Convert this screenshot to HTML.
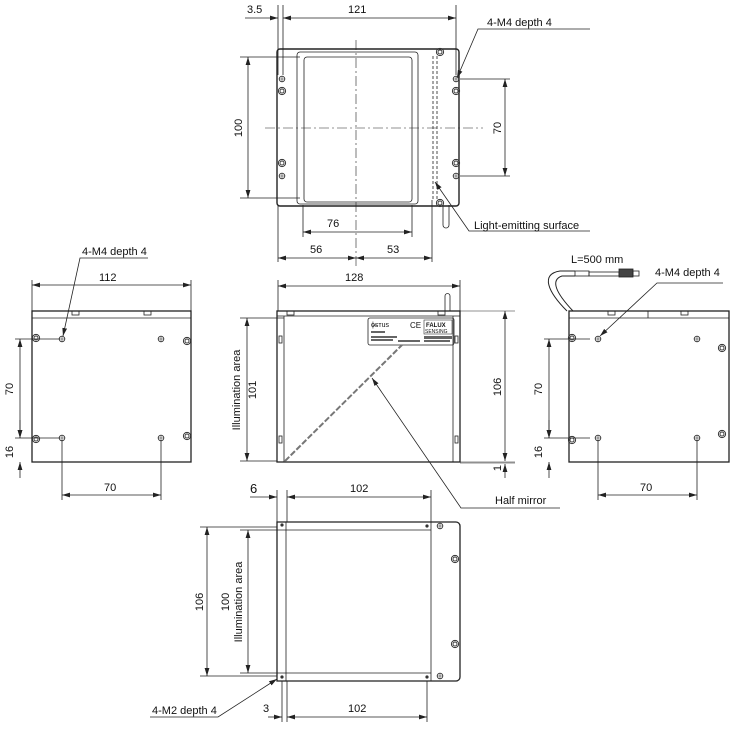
<!DOCTYPE html>
<html><head><meta charset="utf-8"><style>
html,body{margin:0;padding:0;background:#fff;}
svg{display:block;font-family:"Liberation Sans",Arial,sans-serif;}
text{font-size:11px;fill:#111;}
</style></head><body>
<svg width="730" height="731" viewBox="0 0 730 731" xmlns="http://www.w3.org/2000/svg">
<defs>
<marker id="a" viewBox="0 0 10 6" refX="10" refY="3" markerWidth="8" markerHeight="5" orient="auto-start-reverse" markerUnits="userSpaceOnUse"><path d="M0,0L10,3L0,6z" fill="#222"/></marker>
<g id="h"><circle r="2.8" fill="none" stroke="#333" stroke-width="0.9"/><path d="M-2.8,0H2.8M0,-2.8V2.8" stroke="#333" stroke-width="0.6"/></g>
<g id="s"><circle r="3.6" fill="none" stroke="#333" stroke-width="1"/><circle r="2" fill="none" stroke="#333" stroke-width="0.9"/></g>
</defs>
<g fill="none" stroke="#222" stroke-width="0.8">

<!-- TOP VIEW -->
<rect x="277" y="49" width="182" height="157" rx="3" stroke-width="1.4"/>
<rect x="297" y="52" width="121" height="152" rx="3"/>
<rect x="304" y="57" width="108" height="145" rx="3"/>
<path d="M433 56V200M437 56V200" stroke-dasharray="3,2"/>
<path d="M265 128H483M356 40V268" stroke-dasharray="10,3,2,3" stroke-width="0.6"/>
<path d="M443 205V225a3 3 0 0 0 6 0V205" />
<path d="M278 5V75M283 5V75M456 5V75"/>
<path d="M245 18H278" marker-end="url(#a)"/><path d="M283 18H456" marker-start="url(#a)" marker-end="url(#a)"/>
<path d="M240 57H300M240 198H300"/>
<path d="M248 57V198" marker-start="url(#a)" marker-end="url(#a)"/>
<path d="M460 79H510M460 176H510"/>
<path d="M505 79V176" marker-start="url(#a)" marker-end="url(#a)"/>
<path d="M303 205V237M412 205V237M278 205V262M432 200V262"/>
<path d="M303 232H412" marker-start="url(#a)" marker-end="url(#a)"/>
<path d="M278 258H356" marker-start="url(#a)" marker-end="url(#a)"/>
<path d="M356 258H432" marker-start="url(#a)" marker-end="url(#a)"/>
<path d="M590 29H478L457 78" marker-end="url(#a)"/>
<path d="M590 231H469L435 182" marker-end="url(#a)"/>

<!-- FRONT VIEW -->
<rect x="277" y="311" width="183" height="151" stroke-width="1.3"/>
<path d="M277 316H460M284 316V462M453 316V462"/>
<rect x="287" y="311" width="7" height="4"/><rect x="438" y="311" width="7" height="4"/>
<rect x="279" y="336" width="3" height="7"/><rect x="279" y="436" width="3" height="7"/>
<rect x="455" y="336" width="3" height="7"/><rect x="455" y="436" width="3" height="7"/>
<path d="M445 311V296a2.5 2.5 0 0 1 5 0V311"/>
<rect x="368" y="318" width="86" height="27" rx="2"/>
<path d="M285 461L402 345" stroke="#777" stroke-width="2" stroke-dasharray="6,2"/>
<path d="M278 280V311M460 280V311"/>
<path d="M278 286H460" marker-start="url(#a)" marker-end="url(#a)"/>
<path d="M460 311H515M460 462H515M460 463H515" stroke-width="0.6"/>
<path d="M505 311V461" marker-start="url(#a)" marker-end="url(#a)"/>
<path d="M505 478V464" marker-end="url(#a)"/>
<path d="M240 318H284M240 461H277"/>
<path d="M247 318V461" marker-start="url(#a)" marker-end="url(#a)"/>
<path d="M560 508H461L372 378" marker-end="url(#a)"/>

<!-- LEFT VIEW -->
<rect x="32" y="311" width="159" height="151" stroke-width="1.3"/>
<path d="M32 318H191"/>
<rect x="72" y="311" width="7" height="4"/><rect x="144" y="311" width="7" height="4"/>
<path d="M32 280V311M191 280V311"/>
<path d="M32 285H191" marker-start="url(#a)" marker-end="url(#a)"/>
<path d="M15 339H60M15 438H60"/>
<path d="M20 339V438" marker-start="url(#a)" marker-end="url(#a)"/>
<path d="M20 420V438" marker-end="url(#a)"/><path d="M20 478V462" marker-end="url(#a)"/>
<path d="M62 440V500M161 440V500"/>
<path d="M62 495H161" marker-start="url(#a)" marker-end="url(#a)"/>
<path d="M148 258H80L63 336" marker-end="url(#a)"/>

<!-- RIGHT VIEW -->
<rect x="569" y="311" width="160" height="151" stroke-width="1.3"/>
<path d="M569 318H729M648 311V318"/>
<rect x="608" y="311" width="7" height="4"/><rect x="681" y="311" width="7" height="4"/>
<path d="M567 311C548 292 540 274 560 271L575 271" stroke-width="1"/>
<path d="M573 311C556 293 550 280 562 276L575 276" stroke-width="1"/>
<rect x="575" y="271" width="14" height="5"/><rect x="589" y="272" width="30" height="4"/>
<rect x="619" y="269" width="14" height="8" fill="#444"/><rect x="633" y="271" width="6" height="5"/>
<path d="M544 339H590M544 438H590"/>
<path d="M549 339V438" marker-start="url(#a)" marker-end="url(#a)"/>
<path d="M549 420V438" marker-end="url(#a)"/><path d="M549 478V462" marker-end="url(#a)"/>
<path d="M598 440V500M697 440V500"/>
<path d="M598 495H697" marker-start="url(#a)" marker-end="url(#a)"/>
<path d="M723 283H657L600 336" marker-end="url(#a)"/>

<!-- BOTTOM VIEW -->
<path d="M277 522H456a4 4 0 0 1 4 4V677a4 4 0 0 1-4 4H277Z" stroke-width="1.3"/>
<path d="M286 522V681M286 530H431M286 673H431"/>
<path d="M250 497H277" marker-end="url(#a)"/>
<path d="M287 497H431" marker-start="url(#a)" marker-end="url(#a)"/>
<path d="M277 490V522M287 490V522M431 490V681"/>
<path d="M200 527H277M240 530H286M200 676H277M240 673H286"/>
<path d="M207 527V676" marker-start="url(#a)" marker-end="url(#a)"/>
<path d="M248 530V673" marker-start="url(#a)" marker-end="url(#a)"/>
<path d="M282 681V722M287 681V722M427 681V722"/>
<path d="M268 717H282" marker-end="url(#a)"/>
<path d="M287 717H427" marker-start="url(#a)" marker-end="url(#a)"/>
<path d="M150 717H218L277 679" marker-end="url(#a)"/>
</g>

<use href="#h" x="282" y="79"/><use href="#s" x="282" y="91"/><use href="#s" x="282" y="163"/><use href="#h" x="282" y="176"/>
<use href="#h" x="456" y="79"/><use href="#s" x="456" y="91"/><use href="#s" x="456" y="163"/><use href="#h" x="456" y="176"/>
<use href="#s" x="440" y="52"/><use href="#s" x="440" y="203"/>
<use href="#h" x="62" y="339"/><use href="#h" x="161" y="339"/><use href="#h" x="62" y="438"/><use href="#h" x="161" y="438"/>
<use href="#s" x="36" y="338"/><use href="#s" x="36" y="439"/><use href="#s" x="187" y="341"/><use href="#s" x="187" y="436"/>
<use href="#h" x="598" y="339"/><use href="#h" x="697" y="339"/><use href="#h" x="598" y="438"/><use href="#h" x="697" y="438"/>
<use href="#s" x="572" y="338"/><use href="#s" x="572" y="440"/><use href="#s" x="722" y="348"/><use href="#s" x="722" y="434"/>
<use href="#h" x="440" y="526"/><use href="#h" x="440" y="676"/><use href="#s" x="455" y="559"/><use href="#s" x="455" y="644"/>
<circle cx="282" cy="525" r="1.6" fill="#333"/><circle cx="282" cy="677" r="1.6" fill="#333"/>
<circle cx="427" cy="526" r="1.6" fill="#333"/><circle cx="427" cy="677" r="1.6" fill="#333"/>

<g font-size="5" fill="#333">
<text x="371" y="327" style="font-size:7px">ϕ̶sтus</text>
<text x="410" y="328" style="font-size:8px">CE</text>
<rect x="424" y="320" width="28" height="14" fill="none" stroke="#333" stroke-width="0.6"/>
<text x="426" y="327" style="font-size:6px;font-weight:bold">FALUX</text>
<text x="425" y="333" style="font-size:5px">SENSING</text>
<rect x="371" y="331" width="14" height="2" fill="#666"/><rect x="371" y="336" width="26" height="2" fill="#666"/>
<rect x="371" y="339" width="22" height="2" fill="#666"/><rect x="398" y="340" width="22" height="2" fill="#666"/>
<rect x="424" y="336" width="28" height="3" fill="#666"/><rect x="424" y="340" width="26" height="2" fill="#666"/>
</g>

<text x="247" y="13">3.5</text>
<text x="348" y="13">121</text>
<text x="487" y="26">4-M4 depth 4</text>
<text transform="translate(242,128) rotate(-90)" text-anchor="middle">100</text>
<text transform="translate(501,128) rotate(-90)" text-anchor="middle">70</text>
<text x="327" y="227">76</text>
<text x="310" y="253">56</text>
<text x="387" y="253">53</text>
<text x="474" y="229">Light-emitting surface</text>
<text x="345" y="281">128</text>
<text x="99" y="281">112</text>
<text x="82" y="255">4-M4 depth 4</text>
<text x="571" y="263">L=500 mm</text>
<text x="655" y="276">4-M4 depth 4</text>
<text transform="translate(240,390) rotate(-90)" text-anchor="middle">Illumination area</text>
<text transform="translate(256,390) rotate(-90)" text-anchor="middle">101</text>
<text transform="translate(501,387) rotate(-90)" text-anchor="middle">106</text>
<text transform="translate(501,468) rotate(-90)" text-anchor="middle">1</text>
<text transform="translate(13,389) rotate(-90)" text-anchor="middle">70</text>
<text transform="translate(13,452) rotate(-90)" text-anchor="middle">16</text>
<text x="104" y="491">70</text>
<text transform="translate(542,389) rotate(-90)" text-anchor="middle">70</text>
<text transform="translate(542,452) rotate(-90)" text-anchor="middle">16</text>
<text x="640" y="491">70</text>
<text x="495" y="504">Half mirror</text>
<text x="250" y="493" style="font-size:13px">6</text>
<text x="350" y="492">102</text>
<text transform="translate(203,602) rotate(-90)" text-anchor="middle">106</text>
<text transform="translate(229,602) rotate(-90)" text-anchor="middle">100</text>
<text transform="translate(242,602) rotate(-90)" text-anchor="middle">Illumination area</text>
<text x="152" y="714">4-M2 depth 4</text>
<text x="263" y="712">3</text>
<text x="348" y="712">102</text>
</svg>
</body></html>
